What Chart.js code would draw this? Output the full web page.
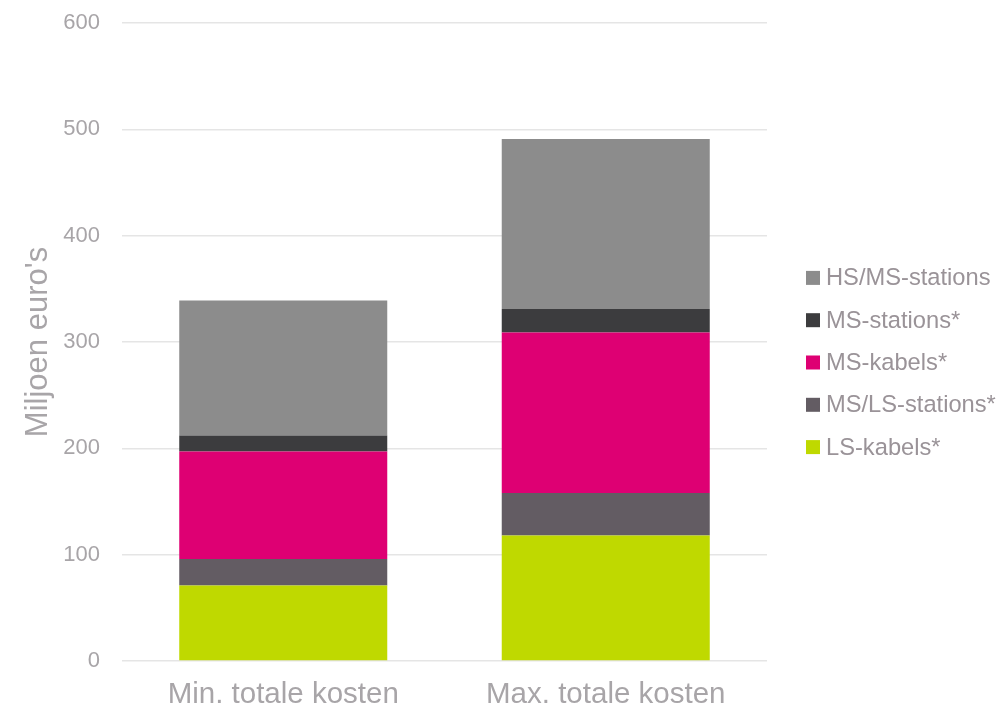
<!DOCTYPE html>
<html>
<head>
<meta charset="utf-8">
<script src="https://cdn.jsdelivr.net/npm/chart.js@4/dist/chart.umd.min.js"></script>
<style>
html,body{margin:0;padding:0;background:#fff;}
#wrap{width:997px;height:708px;}
</style>
</head>
<body>
<div id="wrap"><canvas id="c" width="997" height="708"></canvas></div>
<script>
const categories = ["Min. totale kosten", "Max. totale kosten"];
const lsKabels = [71, 118];
const msLsStations = [25, 40];
const msKabels = [101, 151];
const msStations = [15, 22];
const hsMsStations = [127, 160];
const yTicks = [0, 100, 200, 300, 400, 500, 600];

const seriesNames = ["LS-kabels*", "MS/LS-stations*", "MS-kabels*", "MS-stations*", "HS/MS-stations"];
const seriesData = [lsKabels, msLsStations, msKabels, msStations, hsMsStations];
const seriesColors = ["#bfd900", "#635c63", "#de0073", "#3c3c3e", "#8c8c8c"];

const textGrey = "#a8a5a8";
const legendGrey = "#9a9398";
const font = "Liberation Sans, Arial, sans-serif";

const sideLegend = {
  id: 'sideLegend',
  afterDraw(chart) {
    const ctx = chart.ctx;
    const ca = chart.chartArea;
    const ds = chart.data.datasets.slice().reverse();
    const rowGap = 42.3;
    const midY = (ca.top + ca.bottom) / 2 + 20.5;
    const startY = midY - rowGap * (ds.length - 1) / 2;
    ctx.save();
    ctx.font = "23.7px " + font;
    ctx.textBaseline = 'middle';
    ctx.textAlign = 'left';
    ds.forEach((d, i) => {
      const y = startY + i * rowGap;
      ctx.fillStyle = d.backgroundColor;
      ctx.fillRect(ca.right + 39, y - 7, 14, 14);
      ctx.fillStyle = legendGrey;
      ctx.fillText(d.label, ca.right + 59, y + 1);
    });
    ctx.restore();
  }
};

new Chart(document.getElementById('c'), {
  type: 'bar',
  data: {
    labels: categories,
    datasets: seriesNames.map((n, i) => ({
      label: n,
      data: seriesData[i],
      backgroundColor: seriesColors[i],
      borderWidth: 0,
      barPercentage: 1,
      categoryPercentage: 0.645
    }))
  },
  options: {
    responsive: false,
    animation: false,
    layout: { padding: { left: 0, right: 230, top: 23, bottom: 0 } },
    plugins: {
      tooltip: { enabled: false },
      legend: { display: false }
    },
    scales: {
      x: {
        stacked: true,
        grid: { display: false, drawTicks: false },
        border: { display: false },
        ticks: { color: textGrey, font: { family: font, size: 29.5 }, padding: 16, maxRotation: 0 },
        afterFit: (s) => { s.height = 47; s.paddingLeft = 0; s.paddingRight = 0; }
      },
      y: {
        stacked: true,
        min: 0,
        max: 600,
        afterBuildTicks: (axis) => { axis.ticks = yTicks.map(v => ({ value: v })); },
        grid: { color: "#e5e5e5", lineWidth: 1.5, drawTicks: true, tickLength: 0 },
        border: { display: false },
        ticks: { color: textGrey, font: { family: font, size: 22 }, padding: 22 },
        title: { display: true, text: "Miljoen euro's", color: textGrey, font: { family: font, size: 31 }, padding: { top: 20, bottom: 0 } },
        afterFit: (s) => { s.width = 122; s.paddingTop = 0; s.paddingBottom = 0; }
      }
    }
  },
  plugins: [sideLegend]
});
</script>
</body>
</html>
